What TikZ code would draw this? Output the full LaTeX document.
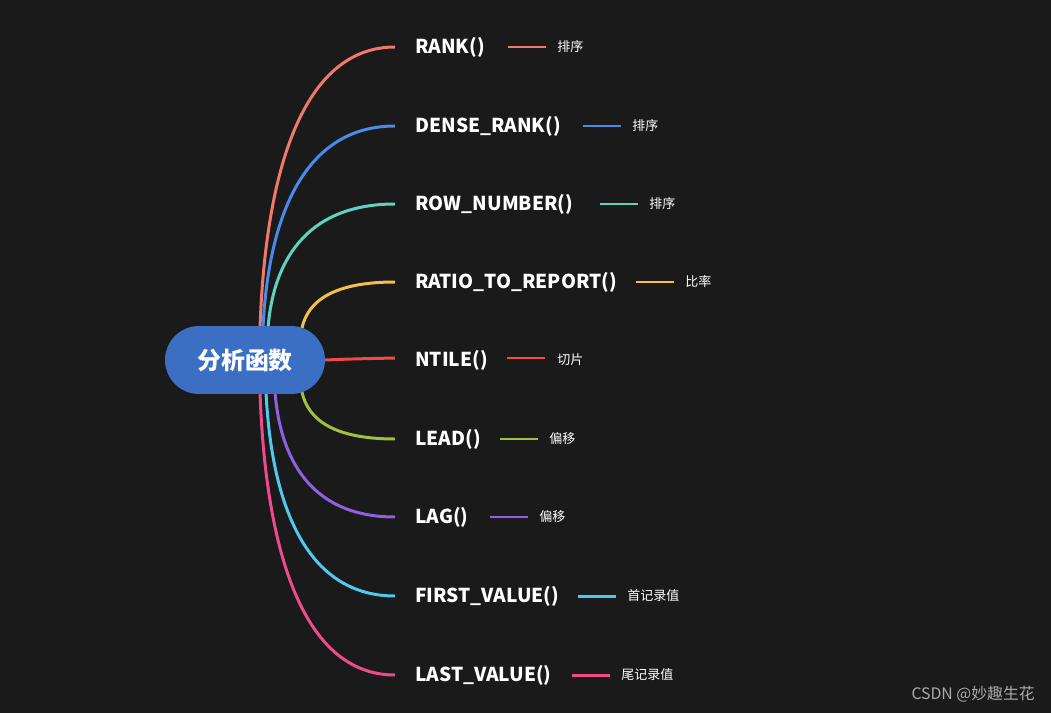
\documentclass[tikz,border=0pt]{standalone}
\usepackage{fontspec}
\setmainfont{Noto Sans CJK SC}
\begin{document}
\begin{tikzpicture}[x=0.02cm,y=-0.02cm,
  item/.style={anchor=west,text=white,font=\fontsize{10.9}{13}\selectfont\bfseries,inner sep=0pt},
  lab/.style={anchor=west,text=white,font=\fontsize{7.4}{9}\selectfont,inner sep=0pt},
  br/.style={line width=1.7pt}]
\fill[fill={rgb,255:red,26;green,26;blue,26}] (0,0) rectangle (1051,713);
\useasboundingbox (0,0) rectangle (1051,713);
\definecolor{c1}{HTML}{F07A6A}\definecolor{c2}{HTML}{4A8AE8}\definecolor{c3}{HTML}{5FD3C0}
\definecolor{c4}{HTML}{F5C04A}\definecolor{c5}{HTML}{F04A4A}\definecolor{c6}{HTML}{A0C040}
\definecolor{c7}{HTML}{9060E0}\definecolor{c8}{HTML}{50C8F0}\definecolor{c9}{HTML}{F04A8A}
\foreach \n/\t/\y/\la/\lb/\l/\c/\xs/\ys in {
 a/RANK()/47/508/546/排序/c1/260/328,
 b/DENSE\_RANK()/126/583/621/排序/c2/263/328,
 c/ROW\_NUMBER()/204/600/638/排序/c3/268/328,
 d/RATIO\_TO\_REPORT()/282/636/674/比率/c4/302/328,
 f/LEAD()/439/500/538/偏移/c6/302/392,
 g/LAG()/517/490/528/偏移/c7/275/392,
 h/FIRST\_VALUE()/596/578/616/首记录值/c8/266/392,
 i/LAST\_VALUE()/675/572/610/尾记录值/c9/260/392}{
  \coordinate (s\n) at (\xs,\ys);
  \coordinate (e\n) at (395,\y);
  \draw[br,\c] (s\n) .. controls ({\xs+6},{\ys+(\y-\ys)*0.6}) and ({\xs+(395-\xs)*0.35},\y) .. (e\n);
  \node[item] (t\n) at (415,\y) {\t};
  \coordinate (la\n) at (\la,\y); \coordinate (lb\n) at (\lb,\y);
  \draw[br,\c] (la\n) -- (lb\n);
  \node[lab] (l\n) at (\lb+11,\y) {\l};
}
\coordinate (se) at (325,360); \coordinate (ee) at (395,358);
\draw[br,c5] (se) .. controls (350,359) .. (ee);
\node[item] (te) at (415,360) {NTILE()};
\coordinate (lae) at (507,358); \coordinate (lbe) at (545,358);
\draw[br,c5] (lae) -- (lbe);
\node[lab] (le) at (557,360) {切片};
\node[fill={rgb,255:red,58;green,111;blue,196},rounded corners=0.68cm,minimum width=3.2cm,minimum height=1.36cm,text=white,font=\fontsize{13.6}{16}\selectfont\bfseries] (root) at (245,360) {分析函数};
\node[anchor=east,text={rgb,255:red,170;green,170;blue,170},font=\fontsize{9}{11}\selectfont,inner sep=0pt] (wm) at (1035,694) {CSDN @妙趣生花};
\end{tikzpicture}
\end{document}
